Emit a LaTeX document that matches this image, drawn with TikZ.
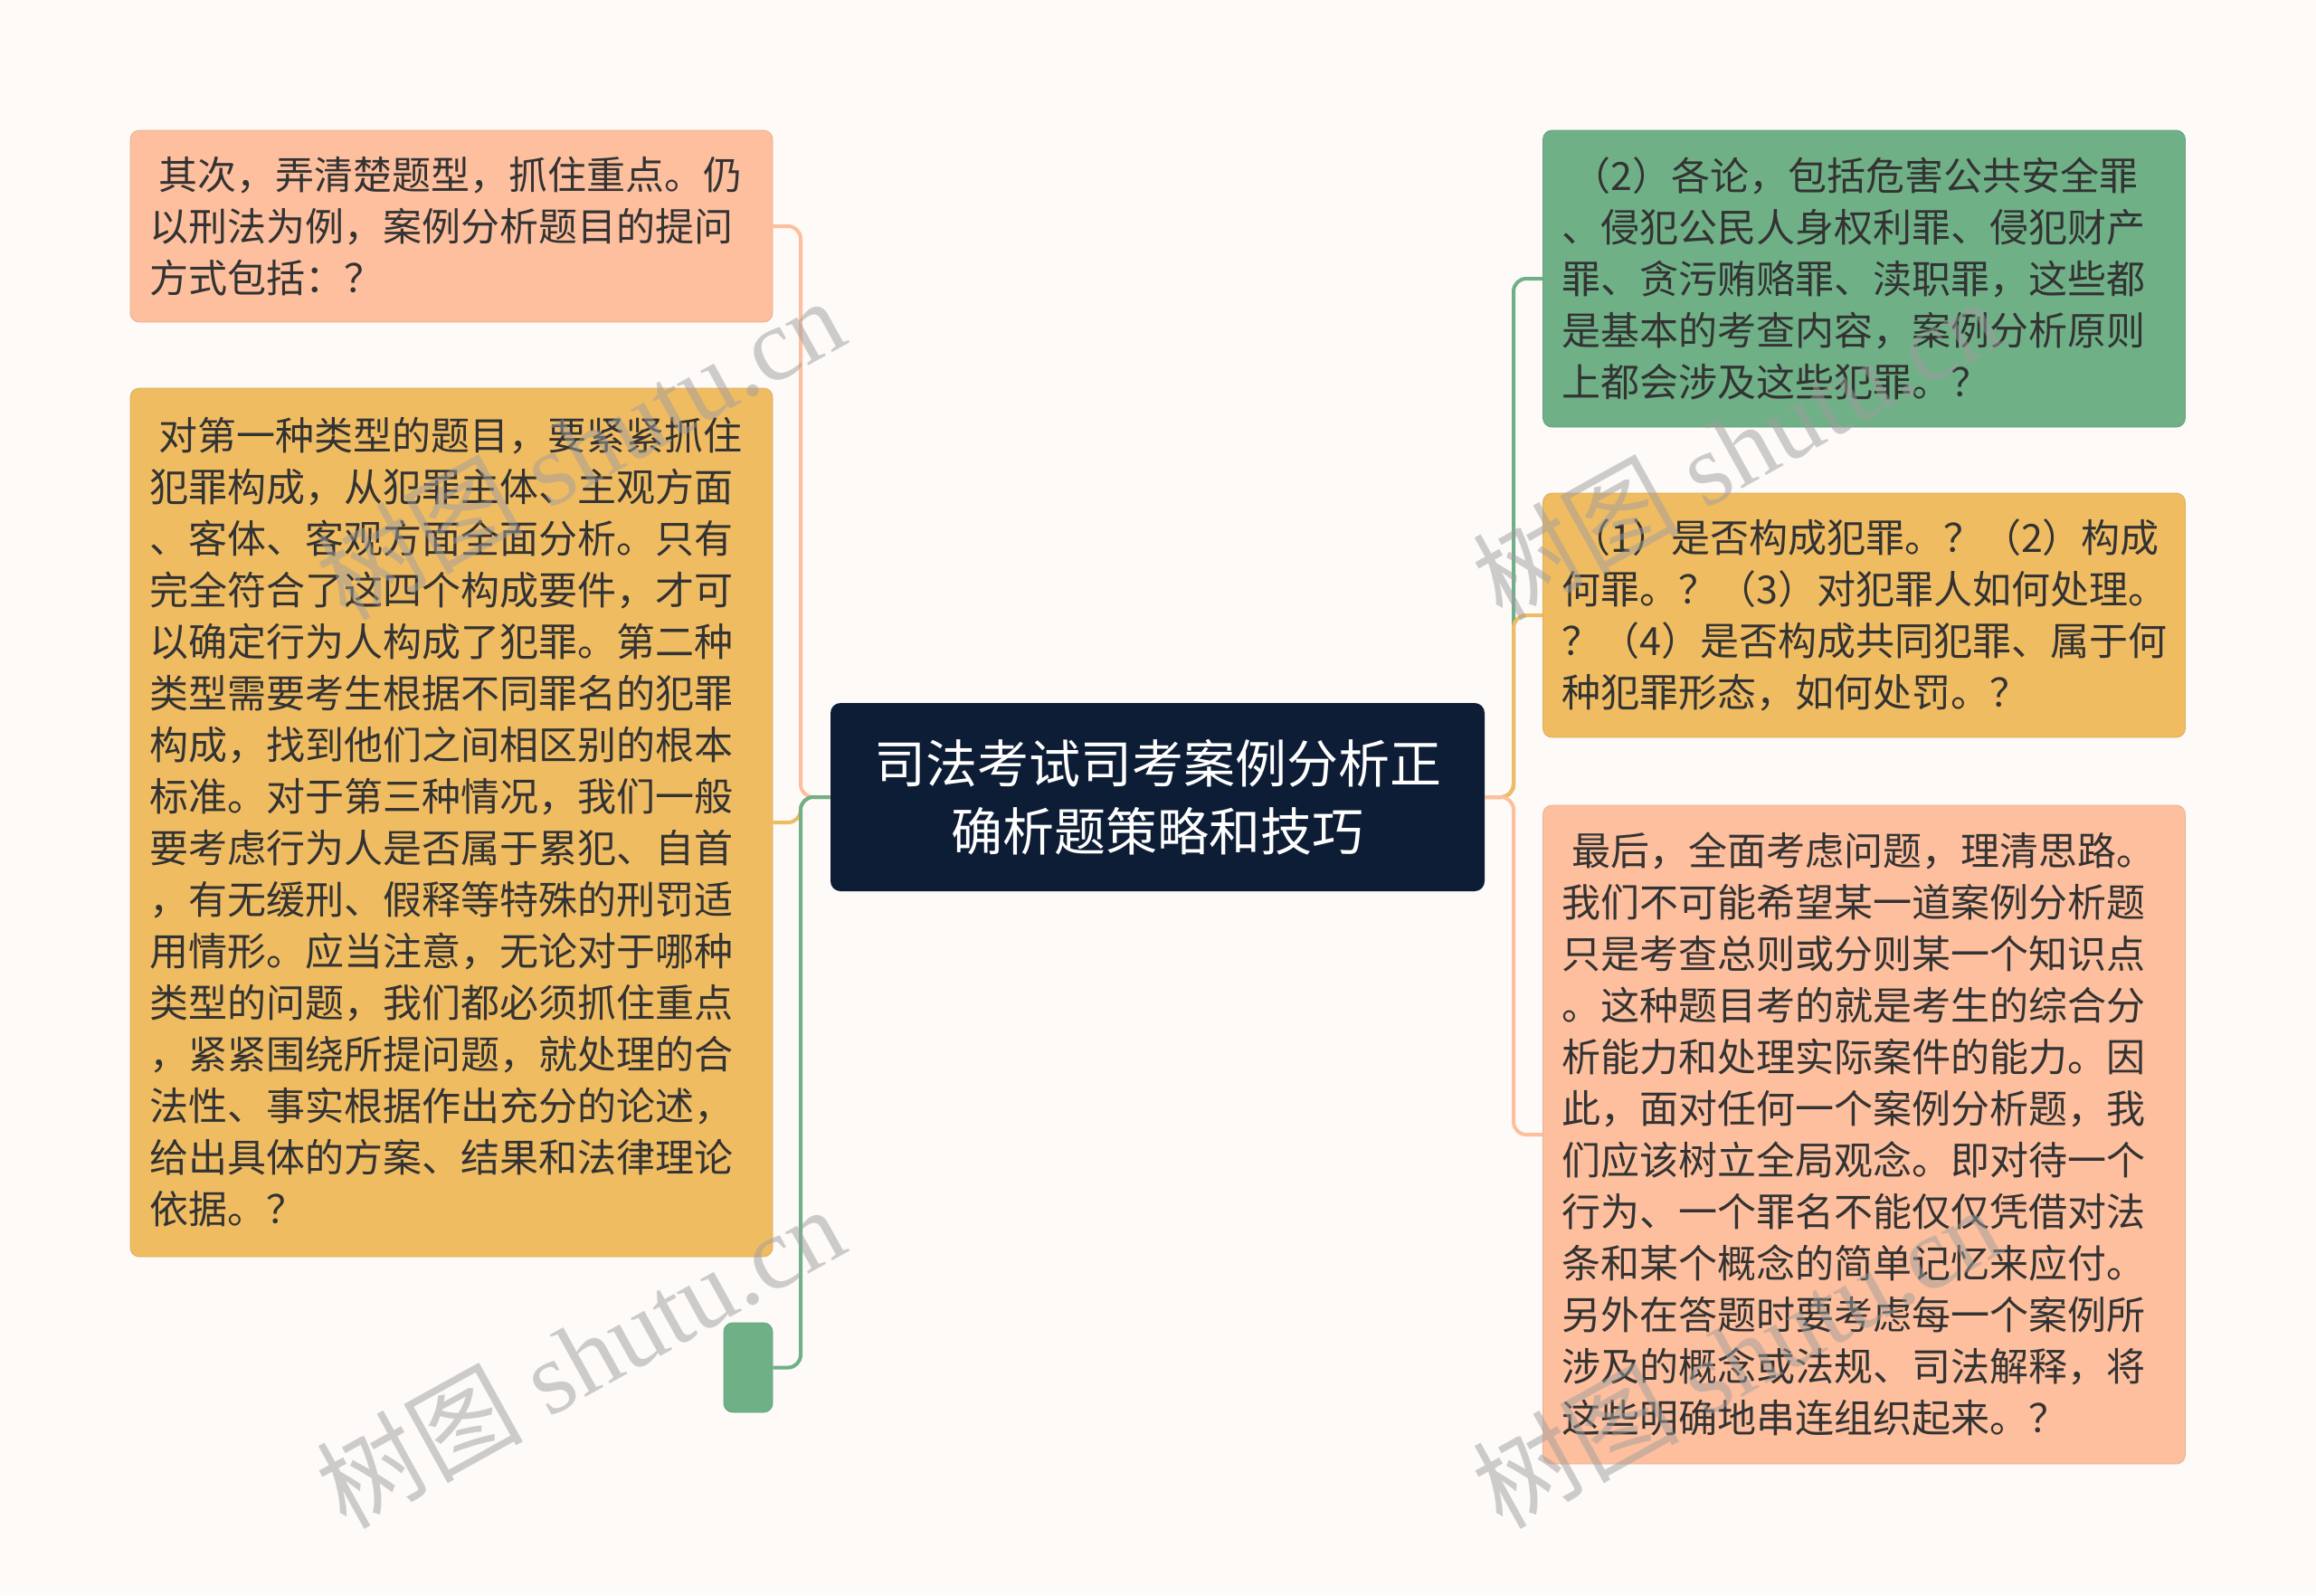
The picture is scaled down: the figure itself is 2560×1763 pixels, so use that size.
\documentclass[tikz,border=0pt]{standalone}
\usepackage{fontspec}
\setmainfont{Noto Sans CJK SC}
\newfontfamily\wmlatin{Liberation Serif}
\definecolor{bgc}{HTML}{FDFAF8}
\definecolor{peach}{HTML}{FDBF9D}
\definecolor{yel}{HTML}{F0BC62}
\definecolor{grn}{HTML}{6FB087}
\definecolor{navy}{HTML}{0E1D36}
\definecolor{txt}{HTML}{333333}
\tikzset{
  leaf/.style={rounded corners=5pt, inner xsep=10.5pt, inner ysep=0pt, align=left,
    text width=334pt, minimum width=355pt, text=txt,
    font=\fontsize{21.5pt}{28.5pt}\selectfont},
  pnode/.style={leaf, fill=peach, draw=peach!92!black, line width=0.4pt},
  ynode/.style={leaf, fill=yel, draw=yel!92!black, line width=0.4pt},
  gnode/.style={leaf, fill=grn, draw=grn!92!black, line width=0.4pt},
  conn/.style={line width=2pt, rounded corners=7pt},
  wm/.style={text=black!38, text opacity=0.5, anchor=base west, rotate=29,
    font=\fontsize{57pt}{57pt}\selectfont, inner sep=0pt},
}
\begin{document}
\begin{tikzpicture}[x=0.5pt, y=-0.5pt]
\useasboundingbox[fill=bgc] (0,0) rectangle (2560,1763);
% nodes
\node[pnode, minimum height=106pt] (lp) at (499,250) {\hspace*{0.25em}其次，弄清楚题型，抓住重点。仍\\以刑法为例，案例分析题目的提问\\方式包括：？};
\node[ynode, minimum height=480pt] (ly) at (499,909) {\hspace*{0.25em}对第一种类型的题目，要紧紧抓住\\犯罪构成，从犯罪主体、主观方面\\、客体、客观方面全面分析。只有\\完全符合了这四个构成要件，才可\\以确定行为人构成了犯罪。第二种\\类型需要考生根据不同罪名的犯罪\\构成，找到他们之间相区别的根本\\标准。对于第三种情况，我们一般\\要考虑行为人是否属于累犯、自首\\，有无缓刑、假释等特殊的刑罚适\\用情形。应当注意，无论对于哪种\\类型的问题，我们都必须抓住重点\\，紧紧围绕所提问题，就处理的合\\法性、事实根据作出充分的论述，\\给出具体的方案、结果和法律理论\\依据。？};
\node[rounded corners=5pt, fill=grn, draw=grn!92!black, line width=0.4pt, minimum width=27pt, minimum height=49.5pt, inner sep=0pt] (lg) at (827,1511.5) {};
\node[rounded corners=5.5pt, fill=navy, minimum width=361.5pt, minimum height=104pt, align=center, text=white, inner sep=0pt, font=\fontsize{28.5pt}{37.5pt}\selectfont] (c) at (1279.5,881) {司法考试司考案例分析正\\确析题策略和技巧};
\node[gnode, minimum height=164pt] (rg) at (2060.5,308) {\hspace*{0.25em}（2）各论，包括危害公共安全罪\\、侵犯公民人身权利罪、侵犯财产\\罪、贪污贿赂罪、渎职罪，这些都\\是基本的考查内容，案例分析原则\\上都会涉及这些犯罪。？};
\node[ynode, minimum height=135pt] (ry) at (2060.5,680) {\hspace*{0.25em}（1）是否构成犯罪。？（2）构成\\何罪。？（3）对犯罪人如何处理。\\？（4）是否构成共同犯罪、属于何\\种犯罪形态，如何处罚。？};
\node[pnode, minimum height=364pt] (rp) at (2060.5,1254) {\hspace*{0.25em}最后，全面考虑问题，理清思路。\\我们不可能希望某一道案例分析题\\只是考查总则或分则某一个知识点\\。这种题目考的就是考生的综合分\\析能力和处理实际案件的能力。因\\此，面对任何一个案例分析题，我\\们应该树立全局观念。即对待一个\\行为、一个罪名不能仅仅凭借对法\\条和某个概念的简单记忆来应付。\\另外在答题时要考虑每一个案例所\\涉及的概念或法规、司法解释，将\\这些明确地串连组织起来。？};
% connectors
\coordinate (tl) at (885,881);
\coordinate (tr) at (1673,881);
\draw[conn, peach] (c.west) -- (tl) |- (lp.east);
\draw[conn, yel] (c.west) -- (tl) |- (ly.east);
\draw[conn, grn] (c.west) -- (tl) |- (lg.east);
\draw[conn, grn] (c.east) -- (tr) |- (rg.west);
\draw[conn, yel] (c.east) -- (tr) |- (ry.west);
\draw[conn, peach] (c.east) -- (tr) |- (rp.west);
% watermarks
\node[wm] (w1) at (382,688) {树图{\wmlatin\ shutu.cn}};
\node[wm] (w2) at (382,1692) {树图{\wmlatin\ shutu.cn}};
\node[wm] (w3) at (1660,688) {树图{\wmlatin\ shutu.cn}};
\node[wm] (w4) at (1660,1692) {树图{\wmlatin\ shutu.cn}};
\end{tikzpicture}
\end{document}
